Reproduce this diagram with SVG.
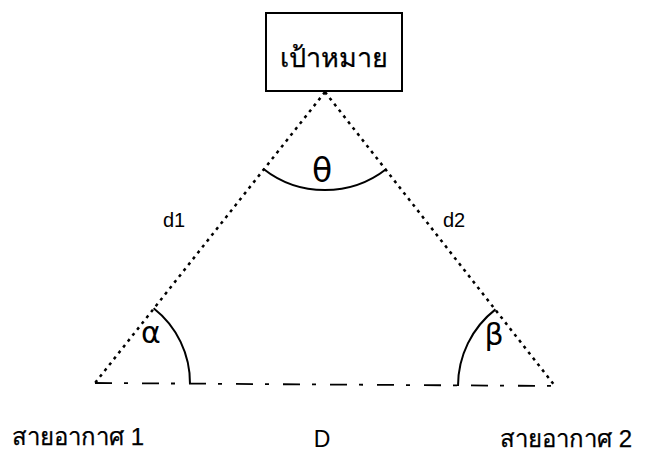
<svg xmlns="http://www.w3.org/2000/svg" width="653" height="453" viewBox="0 0 653 453">
<style>
.txt{font-family:"Liberation Sans","Noto Sans","DejaVu Sans",sans-serif;fill:#000}
.thai{stroke:#000;stroke-width:0.25}
.greek{font-family:"DejaVu Sans","Liberation Sans",sans-serif;fill:#000}
.dot{fill:none;stroke:#000;stroke-width:2.5;stroke-dasharray:3 4.5}
.dashdot{fill:none;stroke:#000;stroke-width:1.8;stroke-dasharray:17 12 4 14}
.arc{fill:none;stroke:#000;stroke-width:2}
</style>
<rect width="653" height="453" fill="#fff"/>
<g id="target">
<rect x="266" y="13" width="136" height="78" fill="#fff" stroke="#000" stroke-width="2"/>
<text class="txt thai" x="334" y="67" font-size="27" text-anchor="middle">เป้าหมาย</text>
</g>
<g id="connectors">
<line class="dot" x1="325" y1="92" x2="95" y2="383"/>
<line class="dot" x1="325" y1="92" x2="555" y2="386"/>
<line class="dashdot" x1="95" y1="383" x2="555" y2="386"/>
<path class="arc" d="M263.2,168.7 A100,100 0 0 0 386.4,169"/>
<path class="arc" d="M153.6,308.3 A95,95 0 0 1 190,384"/>
<path class="arc" d="M495.5,309.4 A97,97 0 0 0 458,386"/>
</g>
<g id="labels">
<text class="greek" x="322" y="182" font-size="33" text-anchor="middle">θ</text>
<text class="greek" x="151" y="343" font-size="30" text-anchor="middle">α</text>
<text class="greek" x="494" y="345" font-size="30" text-anchor="middle">β</text>
<text class="txt" x="163" y="227" font-size="20">d1</text>
<text class="txt" x="443" y="227" font-size="20">d2</text>
<text class="txt" x="322" y="447" font-size="23" text-anchor="middle">D</text>
</g>
<g id="antenna1"><text class="txt thai" x="12" y="445" font-size="24">สายอากาศ 1</text></g>
<g id="antenna2"><text class="txt thai" x="500" y="447" font-size="24">สายอากาศ 2</text></g>
</svg>
